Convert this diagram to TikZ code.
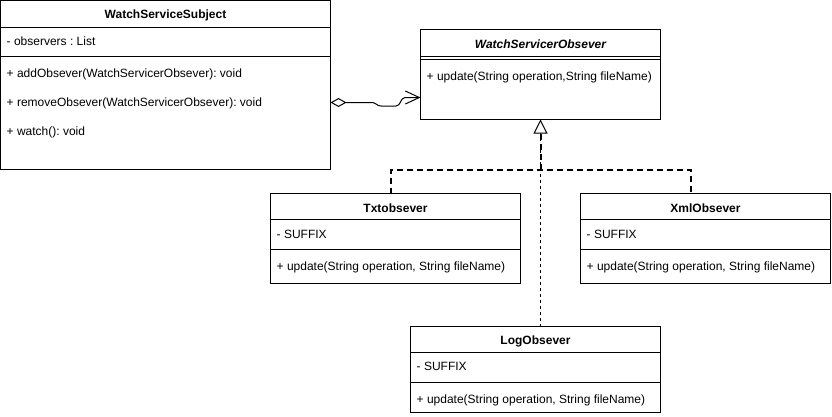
\documentclass[tikz,border=0pt]{standalone}
\usepackage{fontspec}
\setmainfont{Liberation Sans}
\usetikzlibrary{arrows.meta}
\frenchspacing
\begin{document}
\begin{tikzpicture}[x=1pt,y=-1pt,
  umlbox/.style={draw, line width=1pt, fill=white, anchor=north west, inner sep=0pt, outer sep=0pt},
  divline/.style={line width=1pt},
  lbl/.style={anchor=west, inner sep=0pt, font=\fontsize{12}{14}\selectfont},
  ttl/.style={inner sep=0pt, font=\bfseries\fontsize{12}{14}\selectfont},
  ittl/.style={inner sep=0pt, font=\bfseries\itshape\fontsize{12}{14}\selectfont},
  realize/.style={line width=2pt, dash pattern=on 6pt off 4pt},
  realizethin/.style={line width=1pt, dash pattern=on 3pt off 3pt}
]
\useasboundingbox (0,0) rectangle (832,416);

% WatchServiceSubject
\node[umlbox, minimum width=330pt, minimum height=169pt] (subj) at (0.5,0.5) {};
\draw[divline] (0.5,27.5) -- (330.5,27.5);
\draw[divline] (0.5,56.5) -- (330.5,56.5);
\node[ttl] (subjT) at (165.5,15) {WatchServiceSubject};
\node[lbl] (subjA) at (6.5,41) {- observers : List};
\node[lbl] (subjM1) at (6.5,74) {+ addObsever(WatchServicerObsever): void};
\node[lbl] (subjM2) at (6.5,103) {+ removeObsever(WatchServicerObsever): void};
\node[lbl] (subjM3) at (6.5,132) {+ watch(): void};

% WatchServicerObsever
\node[umlbox, minimum width=240pt, minimum height=90pt] (obs) at (420.5,29.5) {};
\draw[divline] (420.5,56) -- (660.5,56);
\draw[divline] (420.5,59) -- (660.5,59);
\node[ittl] (obsT) at (540.5,44) {WatchServicerObsever};
\node[lbl] (obsM) at (426.5,77) {+ update(String operation,String fileName)};

% Txtobsever
\node[umlbox, minimum width=250pt, minimum height=90pt] (txt) at (270.5,193.5) {};
\draw[divline] (270.5,219.5) -- (520.5,219.5);
\draw[divline] (270.5,249.5) -- (520.5,249.5);
\node[ttl] (txtT) at (395.5,208) {Txtobsever};
\node[lbl] (txtA) at (276.5,234) {- SUFFIX};
\node[lbl] (txtM) at (276.5,267) {+ update(String operation, String fileName)};

% XmlObsever
\node[umlbox, minimum width=250pt, minimum height=90pt] (xml) at (580.5,193.5) {};
\draw[divline] (580.5,219.5) -- (830.5,219.5);
\draw[divline] (580.5,249.5) -- (830.5,249.5);
\node[ttl] (xmlT) at (705.5,208) {XmlObsever};
\node[lbl] (xmlA) at (586.5,234) {- SUFFIX};
\node[lbl] (xmlM) at (586.5,267) {+ update(String operation, String fileName)};

% LogObsever
\node[umlbox, minimum width=250pt, minimum height=86pt] (log) at (410.5,326.5) {};
\draw[divline] (410.5,352.5) -- (660.5,352.5);
\draw[divline] (410.5,382.5) -- (660.5,382.5);
\node[ttl] (logT) at (535.5,341) {LogObsever};
\node[lbl] (logA) at (416.5,366) {- SUFFIX};
\node[lbl] (logM) at (416.5,400) {+ update(String operation, String fileName)};

% connector coordinates
\coordinate (aggS) at (330.5,102.5);
\coordinate (aggE) at (420.5,97.5);
\coordinate (txtIn) at (390.5,193.5);
\coordinate (xmlIn) at (690.5,193.5);
\coordinate (bus) at (540.5,169.5);
\coordinate (obsIn) at (obs.south);

% aggregation
\draw[line width=1pt, {Diamond[open, length=16pt, width=9pt, line width=1pt]}-{Straight Barb[length=14pt, width=13pt, line width=1pt]}]
  (aggS) -- (373,102.5) .. controls (377,102.5) and (376,106) .. (381,106)
  -- (396,106) .. controls (401,106) and (400,98) .. (405,97.5) -- (aggE);

% realizations
\draw[realize] (txtIn) -- (txtIn |- bus) -- (xmlIn |- bus) -- (xmlIn);
\draw[realize] (bus) -- (540.5,133);
\draw[realizethin, -{Triangle[open, length=14pt, width=14pt, line width=1pt, fill=white]}] (obsIn |- log.north) -- (obsIn);
\end{tikzpicture}
\end{document}
